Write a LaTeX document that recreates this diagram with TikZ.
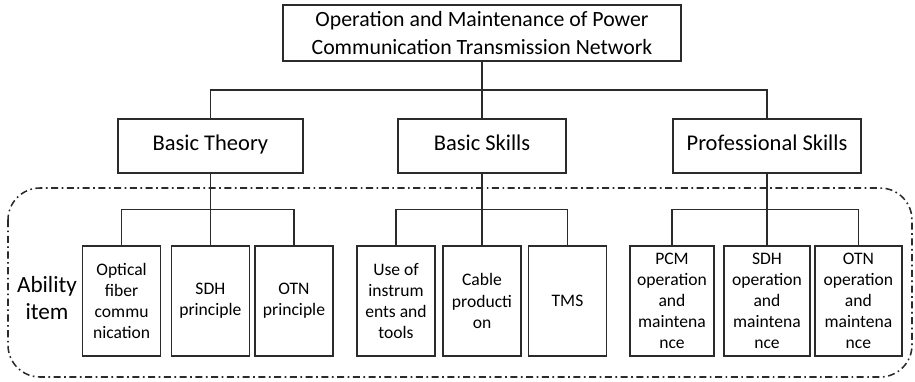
\documentclass[tikz,border=0pt]{standalone}
\usepackage{fontspec}
\setmainfont{Carlito}
\usetikzlibrary{calc}
\definecolor{lineGray}{HTML}{2B2B2B}
\tikzset{
  topbox/.style={
    rectangle, draw=lineGray, line width=0.8pt, minimum width=9.95cm, minimum height=1.4cm,
    align=center, inner sep=0pt, font=\fontsize{15.5}{19.5}\selectfont
  },
  midbox/.style={
    rectangle, draw=lineGray, line width=0.9pt, minimum height=1.35cm,
    text height=1.38ex, text depth=0pt, font=\fontsize{16}{19}\selectfont
  },
  itembox/.style={
    rectangle, draw=lineGray, line width=1pt, minimum width=1.95cm, minimum height=2.75cm,
    align=center, inner sep=1pt, font=\fontsize{12.5}{15}\selectfont
  },
  wire/.style={draw=lineGray, line width=0.8pt},
  group/.style={
    draw=lineGray, line width=1.1pt, dash pattern=on 5pt off 2.5pt on 1.2pt off 2.5pt,
    rounded corners=0.8cm
  }
}

\begin{document}
\begin{tikzpicture}
        \useasboundingbox (-12.05,0.825) rectangle (10.825,-8.7);
        % frame round the ability items
        \draw[group] (-11.85,-3.875) rectangle (10.75,-8.6);
        \node[topbox] (root) at (0,0) {Operation and Maintenance of Power\\Communication Transmission Network};
        \node[midbox, minimum width=4.625cm] (m0) at ($(root)+(-6.79cm,-2.825cm)$) {Basic Theory};
        \node[midbox, minimum width=4.2cm] (m1) at ($(root)+(0,-2.825cm)$) {Basic Skills};
        \node[midbox, minimum width=4.7cm] (m2) at ($(root)+(7.125cm,-2.825cm)$) {Professional Skills};
        \node[align=center, font=\fontsize{16.5}{19.5}\selectfont] (lbl) at ($(root)+(-10.875cm,-6.625cm)$) {Ability\\item};
        % basic theory items
        \node[itembox] (a0) at ($(m0)+(-2.22cm,-3.875cm)$) {Optical\\fiber\\commu\\nication};
        \node[itembox] (a1) at ($(m0)+(0,-3.875cm)$) {SDH\\principle};
        \node[itembox] (a2) at ($(m0)+(2.09cm,-3.875cm)$) {OTN\\principle};
        % basic skills items
        \node[itembox] (a3) at ($(m1)+(-2.15cm,-3.875cm)$) {Use of\\instrum\\ents and\\tools};
        \node[itembox] (a4) at ($(m1)+(0,-3.875cm)$) {Cable\\producti\\on};
        \node[itembox] (a5) at ($(m1)+(2.1375cm,-3.875cm)$) {TMS};
        % professional skills items
        \node[itembox, minimum width=2.1cm] (a6) at ($(m2)+(-2.375cm,-3.875cm)$) {PCM\\operation\\and\\maintena\\nce};
        \node[itembox, minimum width=2.15cm] (a7) at ($(m2)+(0,-3.875cm)$) {SDH\\operation\\and\\maintena\\nce};
        \node[itembox, minimum width=2.175cm] (a8) at ($(m2)+(2.285cm,-3.875cm)$) {OTN\\operation\\and\\maintena\\nce};
        % junctions
        \coordinate (j0) at ($(root.south)!0.5!(m1.north)$);
        \coordinate (j1) at ($(m0.south)!0.5!(a1.north)$);
        \coordinate (j2) at ($(m1.south)!0.5!(a4.north)$);
        \coordinate (j3) at ($(m2.south)!0.5!(a7.north)$);
        % connectors
        \draw[wire] (root.south) -- (m1.north);
        \draw[wire] (m0.north) |- (j0) -| (m2.north);
        \draw[wire] (m0.south) -- (a1.north);
        \draw[wire] (a0.north) |- (j1) -| (a2.north);
        \draw[wire] (m1.south) -- (a4.north);
        \draw[wire] (a3.north) |- (j2) -| (a5.north);
        \draw[wire] (m2.south) -- (a7.north);
        \draw[wire] (a6.north) |- (j3) -| (a8.north);
    \end{tikzpicture}
\end{document}
